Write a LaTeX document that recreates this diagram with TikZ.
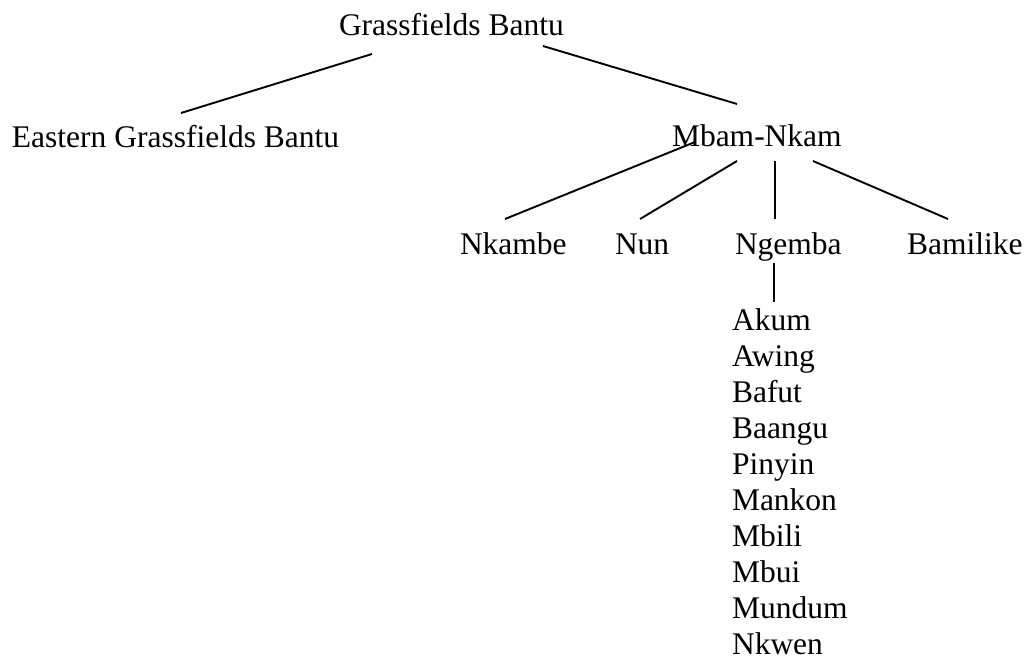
\documentclass[tikz,border=0pt]{standalone}
\usepackage{fontspec}
\setmainfont{Liberation Serif}
\begin{document}
\begin{tikzpicture}[x=1pt,y=-1pt,
  lbl/.style={anchor=base west,inner sep=0pt,outer sep=0pt,font=\fontsize{31.5}{36}\selectfont},
  edge/.style={line width=1.9pt,line cap=butt}]
\useasboundingbox (0,0) rectangle (1026,664);
% nodes
\node[lbl] (gb) at (339,35) {Grassfields Bantu};
\node[lbl] (egb) at (12,147) {Eastern Grassfields Bantu};
\node[lbl] (mn) at (672,146) {Mbam-Nkam};
\node[lbl] (nkambe) at (460,254) {Nkambe};
\node[lbl] (nun) at (615,254) {Nun};
\node[lbl] (ngemba) at (735,254) {Ngemba};
\node[lbl] (bamilike) at (907,254) {Bamilike};
\foreach \t [count=\i] in {Akum,Awing,Bafut,Baangu,Pinyin,Mankon,Mbili,Mbui,Mundum,Nkwen}
  \node[lbl] (l\i) at (732,{330+36*(\i-1)}) {\t};
% connector end points
\coordinate (gbL) at (372,54);
\coordinate (egbT) at (181,113);
\coordinate (gbR) at (543,46);
\coordinate (mnT) at (737,104);
\coordinate (mn1) at (695,142);
\coordinate (nkambeT) at (505,219);
\coordinate (mn2) at (737,161);
\coordinate (nunT) at (640,219);
\coordinate (mn3) at (775,161);
\coordinate (ngembaT) at (775,219);
\coordinate (mn4) at (813,161);
\coordinate (bamilikeT) at (948,219);
\coordinate (ngembaB) at (774,263);
\coordinate (listT) at (774,302);
% connectors
\draw[edge] (gbL) -- (egbT);
\draw[edge] (gbR) -- (mnT);
\draw[edge] (mn1) -- (nkambeT);
\draw[edge] (mn2) -- (nunT);
\draw[edge] (mn3) -- (ngembaT);
\draw[edge] (mn4) -- (bamilikeT);
\draw[edge] (ngembaB) -- (listT);
\end{tikzpicture}
\end{document}
